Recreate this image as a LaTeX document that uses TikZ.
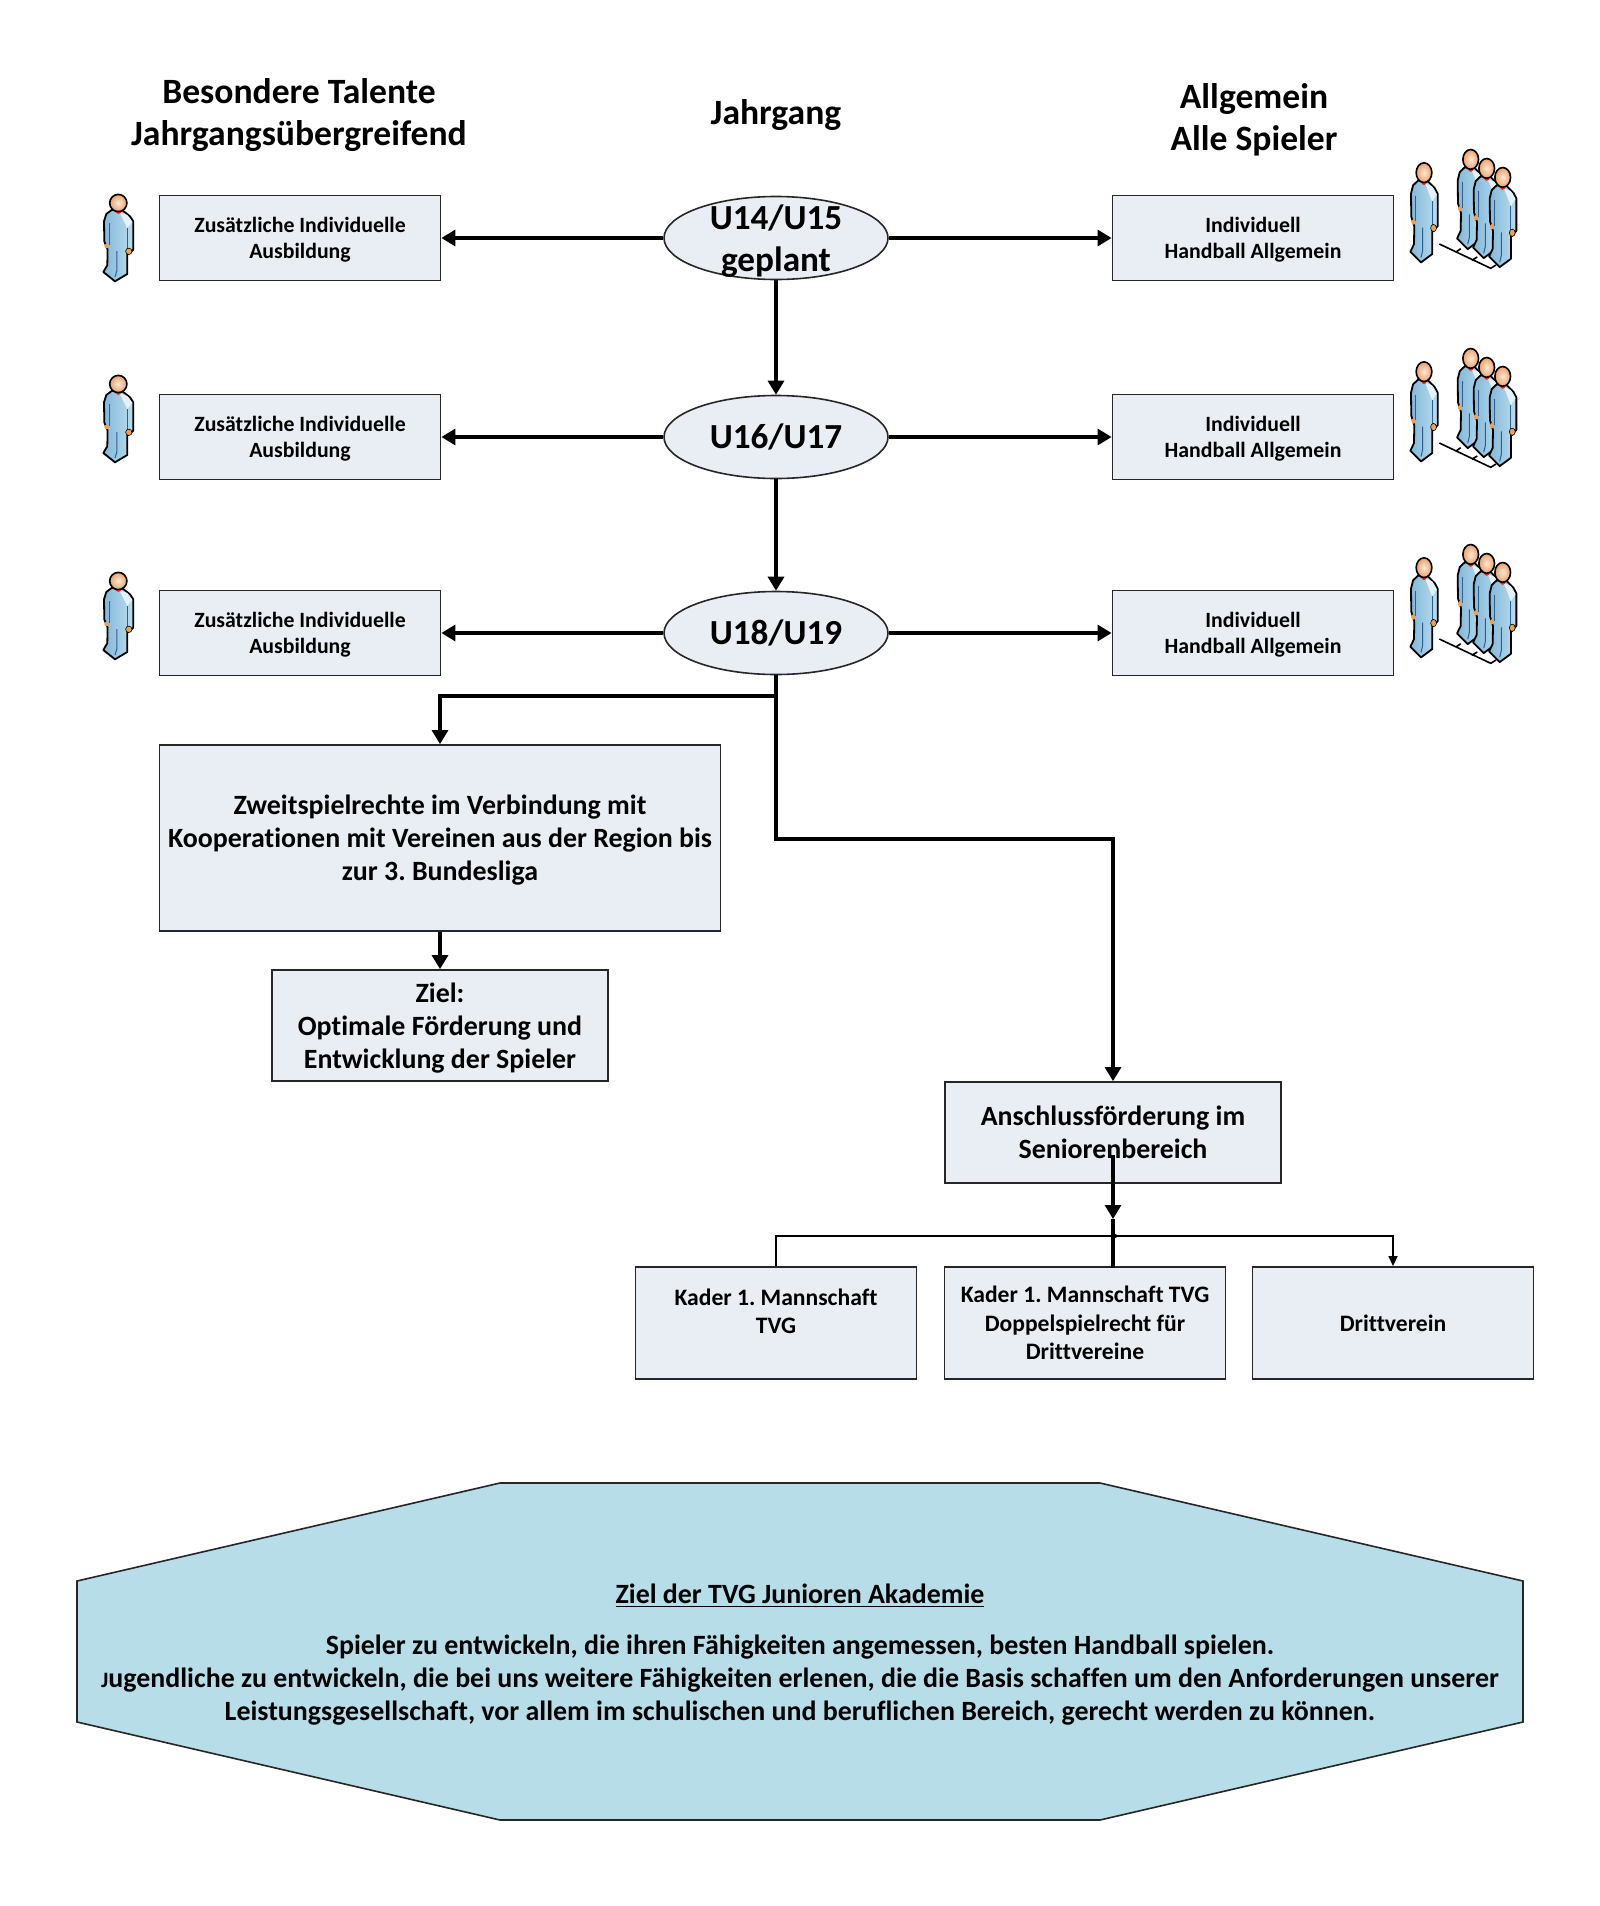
\documentclass[tikz,border=0pt]{standalone}
\usepackage{fontspec}
\setmainfont{Carlito}[Ligatures=NoCommon]
\usepackage{xcolor}
\usetikzlibrary{positioning, arrows.meta, shapes}
\definecolor{boxfill}{HTML}{E9EEF5}
\definecolor{goalfill}{HTML}{B7DDE8}
\definecolor{suitdark}{HTML}{82B8DA}
\definecolor{suitlight}{HTML}{BCDDED}
\definecolor{suitedge}{HTML}{2A5F8F}
\definecolor{skinlight}{HTML}{FDE8D5}
\definecolor{skindark}{HTML}{EBA26B}
\definecolor{handskin}{HTML}{F0A050}

\begin{document}
\frenchspacing
\begin{tikzpicture}[
x=0.5pt, y=-0.5pt,
smallbox/.style={draw=black!85, fill=boxfill, line width=0.9pt, align=center, inner sep=0pt, text depth=0pt, minimum width=140.5pt, minimum height=42.5pt, font=\fontsize{10.9}{13.3}\selectfont\bfseries},
bigbox/.style={draw=black!85, fill=boxfill, line width=0.9pt, align=center, inner sep=0pt, text depth=0pt, font=\fontsize{13.95}{16.5}\selectfont\bfseries},
kaderbox/.style={draw=black!85, fill=boxfill, line width=0.9pt, align=center, inner sep=0pt, text depth=0pt, minimum width=140.5pt, minimum height=56pt, font=\fontsize{11.8}{14.2}\selectfont\bfseries},
ageoval/.style={draw=black!85, fill=boxfill, ellipse, line width=0.8pt, inner sep=0pt, minimum width=112pt, minimum height=41.5pt, align=center, font=\fontsize{17.6}{21}\selectfont\bfseries},
headline/.style={align=center, inner sep=0pt, text depth=0pt, font=\fontsize{17.8}{21}\selectfont\bfseries},
arrow/.style={-{Triangle[length=7pt, width=8pt]}, line width=1.6pt, draw=black},
plainline/.style={line width=1.6pt, draw=black},
treeline/.style={line width=0.7pt, draw=black},
footline/.style={line width=0.8pt, draw=black},
person/.pic={
  \path[draw=black, line width=0.9pt, line join=round, left color=suitdark, right color=suitlight]
    (-6.7,7) -- (-12,11) -- (-14.3,18.3) -- (-14,38.3) -- (-10.7,46.7) -- (-11,62.3) -- (-15,69) -- (-3.3,78.3) -- (9,71) -- (9,51.7) -- (15,46.7) -- (15,18.3) -- (11.7,13.3) -- (3.3,6.7) -- cycle;
  \fill[white!60!suitlight] (1,9) -- (9,12) -- (14,19) -- (9,25) -- (4,15) -- cycle;
  \draw[suitedge, line width=0.5pt] (-9,20) -- (-9,42);
  \draw[suitedge, line width=0.5pt] (9,25) -- (9,48);
  \draw[suitedge, line width=0.5pt] (-1.5,48) -- (-1.5,68) -- (-3.3,74);
  \fill[handskin] (-11.7,43) circle (2.3);
  \draw[black, line width=0.3pt, fill=handskin] (10.5,48.3) circle (3.2);
  \fill[red!75!orange] (0,7.6) circle (3.2);
  \path[draw=black, line width=0.8pt, inner color=skinlight, outer color=skindark] (0,0) circle (8.6);
}
]
\useasboundingbox (0,0) rectangle (1600,1906);

% ====== Column Headings ======
\node[headline] (headTalent) at (299,112) {Besondere Talente\\Jahrgangsübergreifend};
\node[headline] (headYear) at (776,112) {Jahrgang};
\node[headline] (headAll) at (1254,117) {Allgemein\\Alle Spieler};

% ====== Age Groups ======
\node[ageoval, label={[headline, font=\fontsize{17.6}{21}\selectfont\bfseries]center:U14/U15\\geplant}] (ageA) at (776,238) {};
\node[ageoval] (ageB) at (776,437) {U16/U17};
\node[ageoval] (ageC) at (776,633) {U18/U19};

% ====== Left Column ======
\node[smallbox] (talentA) at (300,238) {Zusätzliche Individuelle\\Ausbildung};
\node[smallbox] (talentB) at (300,437) {Zusätzliche Individuelle\\Ausbildung};
\node[smallbox] (talentC) at (300,633) {Zusätzliche Individuelle\\Ausbildung};

% ====== Right Column ======
\node[smallbox] (generalA) at (1253,238) {Individuell\\Handball Allgemein};
\node[smallbox] (generalB) at (1253,437) {Individuell\\Handball Allgemein};
\node[smallbox] (generalC) at (1253,633) {Individuell\\Handball Allgemein};

% ====== Lower Boxes ======
\node[bigbox, minimum width=280.5pt, minimum height=93pt] (second) at (440,838) {Zweitspielrechte im Verbindung mit\\Kooperationen mit Vereinen aus der Region bis\\zur 3. Bundesliga};
\node[bigbox, minimum width=168pt, minimum height=55.5pt] (aim) at (440,1025.5) {Ziel:\\Optimale Förderung und\\Entwicklung der Spieler};
\node[bigbox, minimum width=168pt, minimum height=50.5pt] (senior) at (1113,1132.5) {Anschlussförderung im\\Seniorenbereich};
\node[kaderbox] (kaderA) at (776,1323) {Kader 1. Mannschaft\\TVG\\[-2.4pt]~};
\node[kaderbox] (kaderB) at (1085,1323) {Kader 1. Mannschaft TVG\\Doppelspielrecht für\\Drittvereine};
\node[kaderbox] (kaderC) at (1393,1323) {Drittverein};

% ====== Bend Points ======
\coordinate (splitL) at (440,696);
\coordinate (splitR) at (1113,839);
\coordinate (seniorOut) at (1113,1155);
\coordinate (treeHit) at (1113,1219);
\coordinate (treeMid) at (1113,1236);
\coordinate (treeEnd) at (1113,1268);
\coordinate (treeTip) at (1119,1236);

% ====== Connections ======
\draw[arrow] (ageA.west) -- (talentA.east);
\draw[arrow] (ageB.west) -- (talentB.east);
\draw[arrow] (ageC.west) -- (talentC.east);
\draw[arrow] (ageA.east) -- (generalA.west);
\draw[arrow] (ageB.east) -- (generalB.west);
\draw[arrow] (ageC.east) -- (generalC.west);
\draw[arrow] (ageA.south) -- (ageB.north);
\draw[arrow] (ageB.south) -- (ageC.north);
\draw[arrow] (ageC.south) |- (splitL) -- (second.north);
\draw[arrow] (ageC.south) |- (splitR) -- (senior.north);
\draw[arrow] (second.south) -- (aim.north);
\draw[treeline] (kaderA.north) |- (treeMid);
\draw[treeline, -{Triangle[length=5pt, width=4.5pt]}] (treeMid) -| (kaderC.north);
\draw[treeline, -{Triangle[length=4pt, width=4pt]}] (treeMid) -- (treeTip);
\draw[arrow] (seniorOut) -- (treeHit);
\draw[plainline] (treeHit) -- (treeEnd);

% ====== Goal Panel ======
\draw[fill=goalfill, draw=black!85, line width=0.8pt] (77,1581) -- (500,1483) -- (1100,1483) -- (1523,1581) -- (1523,1722) -- (1100,1820) -- (500,1820) -- (77,1722) -- cycle;
\node[align=center, inner sep=0pt, text depth=0pt, font=\fontsize{13.95}{16.5}\selectfont\bfseries] (goal) at (800,1652) {\underline{Ziel der TVG Junioren Akademie}\\[8.8pt]
Spieler zu entwickeln, die ihren Fähigkeiten angemessen, besten Handball spielen.\\
{\fontsize{11}{12}\selectfont J}ugendliche zu entwickeln, die bei uns weitere Fähigkeiten erlenen, die die Basis schaffen um den Anforderungen unserer\\
Leistungsgesellschaft, vor allem im schulischen und beruflichen Bereich, gerecht werden zu können.};

% ====== Players ======
\pic at (118.3,203) {person};
\pic at (118.3,384) {person};
\pic at (118.3,581) {person};

\pic[xscale=0.91, yscale=1.146] at (1424,172.7) {person};
\pic[xscale=0.91, yscale=1.146] at (1470.7,159.4) {person};
\pic[xscale=0.91, yscale=1.146] at (1486.7,168.4) {person};
\pic[xscale=0.91, yscale=1.146] at (1502.7,177.4) {person};
\draw[footline] (1439.3,244) -- (1490.7,268.3) -- (1496,265) (1456,252) -- (1460.7,248.7) (1471.7,260.3) -- (1477.3,257);

\pic[xscale=0.91, yscale=1.146] at (1424,371.7) {person};
\pic[xscale=0.91, yscale=1.146] at (1470.7,358.4) {person};
\pic[xscale=0.91, yscale=1.146] at (1486.7,367.4) {person};
\pic[xscale=0.91, yscale=1.146] at (1502.7,376.4) {person};
\draw[footline] (1439.3,443) -- (1490.7,467.3) -- (1496,464) (1456,451) -- (1460.7,447.7) (1471.7,459.3) -- (1477.3,456);

\pic[xscale=0.91, yscale=1.146] at (1424,567.7) {person};
\pic[xscale=0.91, yscale=1.146] at (1470.7,554.4) {person};
\pic[xscale=0.91, yscale=1.146] at (1486.7,563.4) {person};
\pic[xscale=0.91, yscale=1.146] at (1502.7,572.4) {person};
\draw[footline] (1439.3,639) -- (1490.7,663.3) -- (1496,660) (1456,647) -- (1460.7,643.7) (1471.7,655.3) -- (1477.3,652);

\end{tikzpicture}
\end{document}
